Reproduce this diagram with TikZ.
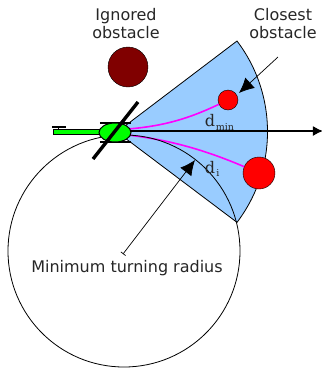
\documentclass[tikz,border=0pt]{standalone}
\usepackage{fontspec}
\setmainfont{DejaVu Sans}
\newfontfamily\dfont{DejaVu Serif}
\usetikzlibrary{arrows.meta}
\definecolor{sectorblue}{HTML}{99CCFF}
\definecolor{darkobstacle}{HTML}{800000}
\definecolor{rotorgreen}{HTML}{00FF00}
\definecolor{pathpink}{HTML}{FF00FF}
\tikzset{
  obstacle/.style={draw=black, circle, inner sep=0pt, fill=red},
  label/.style={font=\fontsize{16}{18}\selectfont, align=center, text=black!85},
  dist/.style={font=\dfont\fontsize{16}{18}\selectfont, inner sep=0pt, text=black!85},
  distsub/.style={font=\dfont\fontsize{9.5}{10}\selectfont, inner sep=0pt, text=black!85},
  pathline/.style={pathpink, line width=1.6pt},
}
\begin{document}
\begin{tikzpicture}[x=1pt,y=-1pt]
    \useasboundingbox (0,0) rectangle (322,368);
    \coordinate (apex) at (117,132);
    \coordinate (hub) at (115,132.5);
    \draw[fill=sectorblue, line width=.8pt] (apex) -- (237,41) arc[start angle=-37.2, end angle=37.2, radius=150] -- cycle;
    \node[obstacle, fill=darkobstacle, minimum size=40pt] (ignored) at (128,67) {};
    \node[obstacle, minimum size=20pt] (closest) at (228,100) {};
    \node[obstacle, minimum size=32pt] (other) at (259,173) {};
    \draw[pathline] (128,129) .. controls (165,126) and (190,118) .. (closest);
    \draw[pathline] (128,135) .. controls (170,140) and (205,150) .. (other);
    \draw[line width=.8pt] (124,251) circle (116);
    \node[label] (ignoredtext) at (126,24) {Ignored\\obstacle};
    \node[label] (closesttext) at (283,24) {Closest\\obstacle};
    \node[label] (radiustext) at (127,268) {Minimum turning radius};
    \node[dist] (dmin) at (210,121) {d};
    \node[distsub] (dminsub) at (225,127) {min};
    \node[dist] (di) at (210,168) {d};
    \node[distsub] (disub) at (218,173) {i};
    \coordinate (closestfrom) at (278,57);
    \coordinate (closestto) at (239,93);
    \coordinate (radiusfrom) at (123,254);
    \coordinate (radiusto) at (195,160);
    \coordinate (axisstart) at (115,131);
    \coordinate (axisend) at (323,131);
    \draw[-{Latex[length=15pt,width=14pt]}, line width=.7pt] (closestfrom) -- (closestto);
    \draw[{Bar[width=6pt]}-{Latex[length=15pt,width=14pt]}, line width=.7pt] (radiusfrom) -- (radiusto);
    \draw[-{Latex[length=10pt,width=10pt]}, line width=1.5pt] (axisstart) -- (axisend);
    \draw[line width=1pt, fill=rotorgreen] (54,129.5) rectangle (101,134.5);
    \draw[line width=2.4pt] (52,127) -- (66,127);
    \draw[line width=1pt] (59,127) -- (59,130);
    \draw[line width=1.2pt] (100,123) -- (131,123);
    \draw[line width=1.2pt] (100,142) -- (131,142);
    \draw[line width=1pt, fill=rotorgreen] (hub) ellipse (16 and 9.5);
    \draw[line width=3.4pt] (93,159) -- (138,102);
\end{tikzpicture}
\end{document}
